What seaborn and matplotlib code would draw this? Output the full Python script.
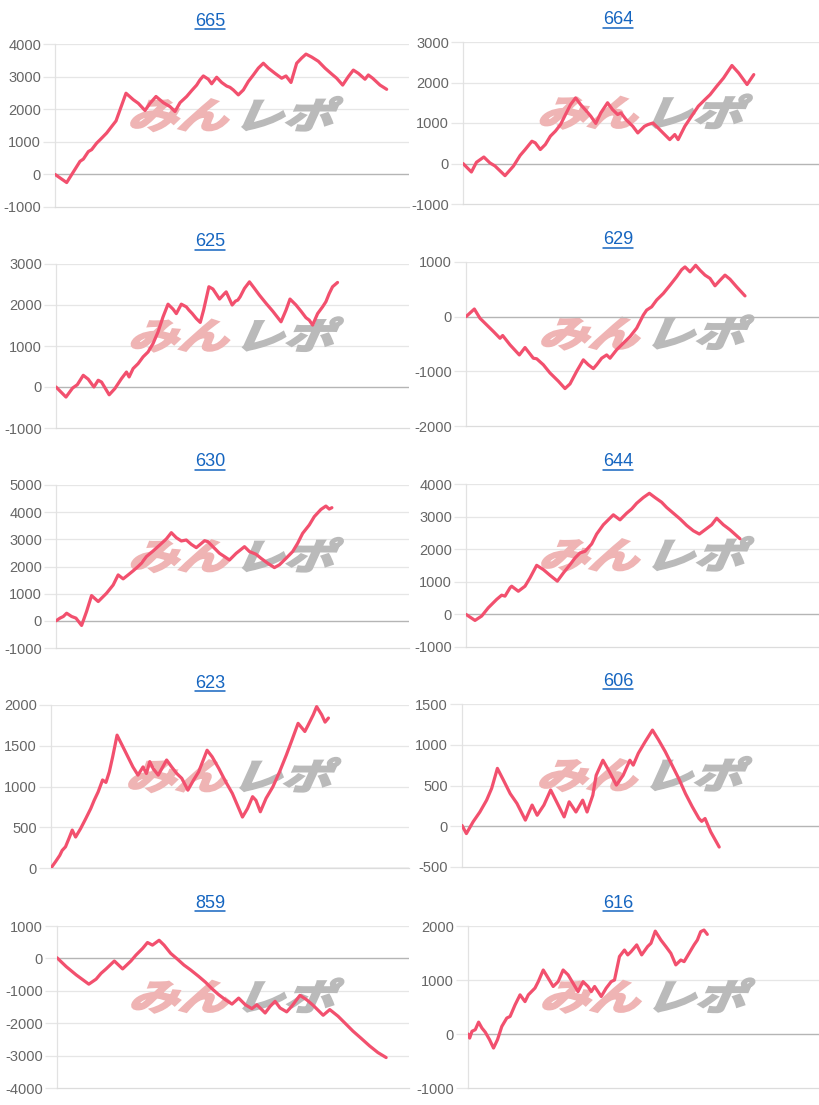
import numpy as np
import matplotlib
matplotlib.use("Agg")
import matplotlib.pyplot as plt
import seaborn as sns
from matplotlib.textpath import TextPath
from matplotlib.patches import PathPatch
from matplotlib.font_manager import FontProperties
from matplotlib.lines import Line2D
from matplotlib import transforms

# machine numbers (chart titles)
titles = ["665", "664", "625", "629", "630", "644", "623", "606", "859", "616"]

# x = progress along the common x range (0..1062), y = medal difference
x_665 = [0, 35, 75, 85, 100, 110, 125, 135, 155, 170, 183, 195, 213, 235, 250, 270, 285, 303, 325, 345,
         360, 375, 395, 410, 425, 435, 445, 460, 470, 485, 500, 515, 525, 535, 550, 565, 580, 595, 610, 625,
         640, 660, 680, 693, 708, 725, 740, 753, 770, 790, 810, 830, 845, 863, 880, 895, 910, 930, 940, 953,
         975, 995]
y_665 = [0, -250, 400, 470, 700, 760, 960, 1060, 1270, 1470, 1640, 1980, 2490, 2290, 2180, 1960, 2180, 2390, 2200, 2080,
         1930, 2200, 2390, 2570, 2740, 2900, 3020, 2920, 2780, 2980, 2820, 2710, 2670, 2590, 2440, 2590, 2850, 3050, 3260, 3410,
         3260, 3100, 2950, 3020, 2820, 3410, 3570, 3690, 3600, 3470, 3260, 3080, 2950, 2740, 3000, 3200, 3100, 2920, 3050, 2950,
         2740, 2610]

x_664 = [0, 25, 40, 62, 80, 95, 125, 150, 170, 185, 205, 215, 230, 245, 260, 275, 290, 305, 320, 335,
         350, 365, 380, 395, 410, 430, 445, 460, 470, 485, 505, 520, 540, 550, 565, 580, 595, 615, 630, 640,
         660, 680, 700, 720, 735, 755, 775, 800, 820, 845, 865]
y_664 = [0, -210, 30, 160, 15, -60, -300, -65, 200, 345, 550, 510, 345, 470, 675, 800, 960, 1210, 1455, 1620,
         1455, 1315, 1170, 990, 1250, 1500, 1330, 1210, 1250, 1085, 920, 755, 920, 960, 1000, 880, 755, 590, 715, 590,
         920, 1170, 1415, 1580, 1700, 1910, 2110, 2420, 2235, 1950, 2195]

x_625 = [0, 30, 50, 64, 82, 97, 114, 127, 137, 160, 177, 197, 212, 220, 232, 247, 262, 277, 292, 307,
         322, 337, 352, 362, 377, 392, 400, 410, 422, 434, 444, 460, 472, 492, 507, 512, 530, 540, 547, 554,
         567, 582, 597, 612, 632, 652, 677, 692, 704, 722, 737, 752, 762, 772, 787, 802, 812, 822, 832, 847]
y_625 = [0, -245, -25, 55, 285, 190, 0, 165, 120, -190, -40, 205, 365, 245, 450, 570, 735, 855, 1060, 1345,
         1710, 2020, 1900, 1790, 2020, 1955, 1875, 1790, 1670, 1575, 1875, 2445, 2390, 2145, 2280, 2320, 2000, 2095, 2120, 2200,
         2405, 2565, 2405, 2240, 2040, 1850, 1590, 1875, 2145, 2000, 1850, 1690, 1630, 1510, 1790, 1955, 2080, 2280, 2445, 2550]

x_629 = [0, 25, 42, 62, 82, 102, 110, 132, 160, 177, 202, 212, 232, 252, 277, 297, 312, 332, 352, 367,
         382, 392, 407, 422, 432, 452, 472, 492, 512, 532, 542, 557, 572, 592, 612, 632, 647, 657, 672, 689,
         702, 717, 732, 747, 762, 777, 792, 812, 837]
y_629 = [0, 140, -30, -150, -270, -395, -345, -515, -700, -565, -760, -770, -880, -1030, -1180, -1315, -1230, -1000, -790, -880,
         -950, -880, -760, -700, -760, -605, -485, -365, -210, 30, 120, 180, 305, 425, 575, 730, 860, 910, 820, 940,
         850, 760, 700, 565, 665, 760, 685, 545, 380]

x_630 = [0, 12, 22, 32, 47, 60, 77, 92, 107, 127, 152, 172, 187, 202, 217, 232, 247, 257, 272, 292,
         312, 332, 347, 362, 377, 392, 407, 422, 432, 447, 457, 472, 492, 507, 522, 542, 567, 582, 602, 617,
         637, 657, 672, 692, 712, 727, 742, 762, 777, 797, 812, 822, 830]
y_630 = [0, 100, 160, 280, 160, 100, -170, 345, 930, 710, 1015, 1320, 1690, 1545, 1690, 1840, 2000, 2120, 2365, 2570,
         2790, 3015, 3245, 3060, 2940, 2975, 2815, 2695, 2795, 2950, 2915, 2730, 2485, 2365, 2240, 2485, 2730, 2550, 2450, 2300,
         2120, 1960, 2060, 2300, 2550, 2855, 3220, 3530, 3835, 4100, 4225, 4115, 4165]

x_644 = [0, 27, 47, 67, 92, 107, 117, 132, 137, 157, 177, 192, 212, 232, 252, 274, 292, 312, 327, 342,
         357, 377, 392, 412, 442, 462, 482, 497, 512, 532, 550, 567, 587, 602, 622, 642, 662, 682, 700, 717,
         737, 752, 772, 792, 822]
y_644 = [0, -185, -50, 205, 460, 590, 560, 815, 865, 710, 865, 1120, 1505, 1375, 1200, 1020, 1270, 1525, 1730, 1885,
         1935, 2160, 2465, 2750, 3055, 2900, 3105, 3235, 3410, 3585, 3715, 3585, 3440, 3280, 3105, 2930, 2730, 2565, 2465, 2595,
         2750, 2950, 2750, 2595, 2320]

x_623 = [0, 13, 26, 33, 43, 53, 63, 73, 88, 103, 118, 128, 140, 153, 163, 173, 183, 196, 213, 228,
         243, 258, 273, 283, 293, 303, 318, 343, 358, 373, 388, 406, 423, 438, 463, 478, 498, 518, 538, 553,
         568, 583, 598, 608, 621, 638, 658, 678, 698, 713, 733, 753, 763, 778, 788, 803, 813, 823]
y_623 = [0, 75, 155, 215, 260, 360, 465, 380, 485, 605, 730, 830, 935, 1080, 1050, 1180, 1365, 1630, 1490, 1365,
         1240, 1140, 1240, 1160, 1305, 1220, 1140, 1325, 1240, 1160, 1100, 955, 1080, 1180, 1445, 1365, 1220, 1060, 915, 770,
         625, 730, 875, 830, 690, 855, 995, 1180, 1385, 1550, 1775, 1675, 1755, 1880, 1980, 1880, 1790, 1840]

x_606 = [0, 13, 33, 53, 73, 88, 105, 123, 143, 163, 188, 208, 223, 243, 263, 283, 303, 318, 338, 358,
         371, 388, 398, 418, 438, 458, 478, 498, 508, 523, 543, 565, 583, 603, 623, 643, 663, 683, 703, 711,
         721, 738, 763]
y_606 = [10, -90, 55, 175, 320, 465, 710, 565, 400, 280, 75, 260, 135, 260, 445, 280, 115, 300, 175, 320,
         175, 380, 625, 810, 665, 505, 625, 810, 750, 895, 1035, 1180, 1060, 915, 750, 585, 400, 240, 95, 60,
         95, -70, -255]

x_859 = [0, 28, 58, 96, 118, 133, 148, 173, 198, 223, 238, 258, 273, 288, 308, 323, 343, 363, 383, 403,
         428, 448, 468, 488, 508, 528, 548, 568, 588, 603, 628, 643, 658, 673, 693, 708, 733, 753, 773, 803,
         823, 848, 873, 893, 918, 943, 968, 993]
y_859 = [20, -255, -510, -795, -640, -460, -325, -80, -325, -80, 100, 305, 490, 410, 560, 410, 155, -20, -205, -355,
         -560, -735, -940, -1120, -1275, -1410, -1225, -1430, -1550, -1430, -1685, -1480, -1325, -1530, -1650, -1480, -1140, -1275, -1450, -1755,
         -1580, -1785, -2040, -2245, -2470, -2700, -2905, -3060]

x_616 = [0, 5, 12, 22, 32, 42, 52, 65, 77, 89, 102, 117, 127, 142, 157, 172, 182, 202, 212, 227,
         242, 257, 272, 287, 302, 317, 332, 347, 362, 372, 382, 402, 417, 432, 442, 457, 472, 482, 492, 509,
         524, 542, 552, 565, 582, 597, 612, 627, 642, 652, 667, 682, 692, 702, 712, 722]
y_616 = [0, -75, 50, 80, 220, 110, 35, -105, -260, -105, 140, 295, 325, 540, 725, 600, 725, 850, 970, 1185,
         1035, 880, 970, 1185, 1095, 940, 785, 970, 880, 785, 880, 695, 850, 970, 1000, 1435, 1555, 1465, 1525, 1650,
         1465, 1620, 1680, 1905, 1740, 1620, 1495, 1280, 1370, 1340, 1495, 1650, 1740, 1895, 1925, 1845]

series_x = [x_665, x_664, x_625, x_629, x_630, x_644, x_623, x_606, x_859, x_616]
series_y = [y_665, y_664, y_625, y_629, y_630, y_644, y_623, y_606, y_859, y_616]

# y axis ranges and tick step of each chart
y_ranges = [(-1000, 4000), (-1000, 3000), (-1000, 3000), (-2000, 1000), (-1000, 5000),
            (-1000, 4000), (0, 2000), (-500, 1500), (-4000, 1000), (-1000, 2000)]
y_steps = [1000, 1000, 1000, 1000, 1000, 1000, 500, 500, 1000, 1000]

x_max = 1062

# layout in pixels: left, top, bottom, right of each plot area
boxes = [(55, 44, 207, 409), (463, 42, 204, 820),
         (56, 264, 428, 409), (466, 262, 426, 820),
         (56, 485, 648, 409), (466, 484, 647, 820),
         (51, 705, 868, 409), (462, 704, 867, 820),
         (57, 926, 1088, 409), (468, 926, 1088, 820)]
title_pos = [(210, 21), (618, 20), (210, 242), (618, 240), (210, 462),
             (618, 462), (210, 683), (618, 681), (210, 903), (618, 903)]

W, H = 820, 1105
LINE = "#f2506e"
GRID = "#e6e6e6"

sns.set_theme(style="white")
plt.rcParams["font.family"] = ["Liberation Sans", "DejaVu Sans"]

fig = plt.figure(figsize=(W / 100, H / 100), dpi=100)

wm_font = FontProperties(family="Noto Sans CJK JP", weight="bold")
wm_left = TextPath((0, 0), "みん", size=1, prop=wm_font)
wm_right = TextPath((0, 0), "レポ", size=1, prop=wm_font)


def add_watermark(ax):
    # skewed two-colour logo in the middle of the plot
    for path, dx, color in [(wm_left, -102, "#efb4b4"), (wm_right, 4, "#bababa")]:
        tr = (transforms.Affine2D().skew_deg(18, 0).scale(50, 36).translate(dx, -15)
              + transforms.ScaledTranslation(0.49, 0.575, ax.transAxes))
        patch = PathPatch(path, transform=tr, facecolor=color, edgecolor=color,
                          linewidth=1.8, zorder=1)
        ax.add_artist(patch)


for i in range(10):
    left, top, bottom, right = boxes[i]
    ax = fig.add_axes([left / W, (H - bottom) / H, (right - left) / W, (bottom - top) / H])

    add_watermark(ax)

    sns.lineplot(x=series_x[i], y=series_y[i], ax=ax, color=LINE, linewidth=2.3,
                 zorder=3, solid_joinstyle="round")

    lo, hi = y_ranges[i]
    ax.set_ylim(lo, hi)
    ax.set_xlim(0, x_max)
    ticks = np.arange(lo, hi + 1, y_steps[i])
    ax.set_yticks(ticks)
    ax.set_yticklabels([str(int(t)) for t in ticks])
    ax.set_xticks([])
    for t in ticks:
        if t == 0:
            ax.axhline(t, color="#b5b5b5", linewidth=1, zorder=2)
        elif t != lo:
            ax.axhline(t, color=GRID, linewidth=0.9, zorder=0)
    ax.tick_params(axis="y", length=9, width=0.9, color=GRID, pad=1,
                   labelsize=10.5, labelcolor="#666666", left=True)
    for side in ["top", "right"]:
        ax.spines[side].set_visible(False)
    ax.spines["left"].set_color("#e2e2e2")
    ax.spines["bottom"].set_color("#dcdcdc")
    ax.spines["left"].set_linewidth(0.9)
    ax.spines["bottom"].set_linewidth(0.9)
    ax.set_xlabel("")
    ax.set_ylabel("")
    ax.patch.set_alpha(0)

# titles, underlined like links
renderer = fig.canvas.get_renderer()
for name, (tx, ty) in zip(titles, title_pos):
    t = fig.text(tx / W, (H - ty) / H, name, ha="center", va="center",
                 fontsize=13, color="#1565c0")
    bb = t.get_window_extent(renderer)
    fig.add_artist(Line2D([bb.x0, bb.x1], [bb.y0 + 1, bb.y0 + 1], color="#1565c0",
                          linewidth=1.1, transform=transforms.IdentityTransform()))

fig.savefig("out.png", dpi=100)
